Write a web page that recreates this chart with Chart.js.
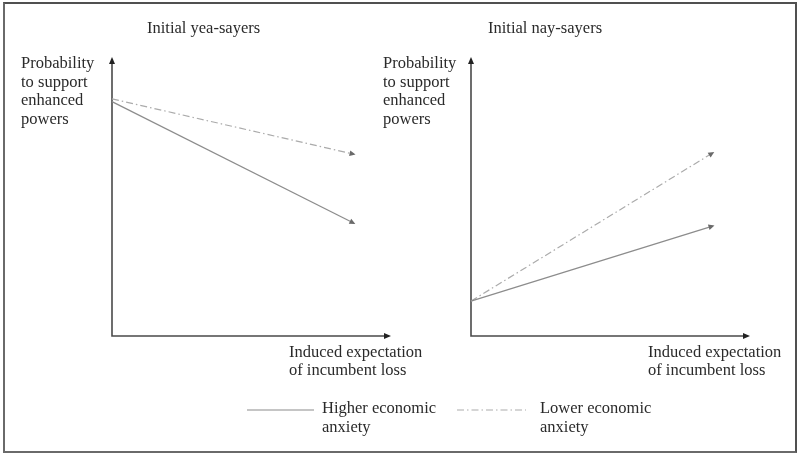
<!DOCTYPE html>
<html>
<head>
<meta charset="utf-8">
<script src="https://cdn.jsdelivr.net/npm/chart.js@4/dist/chart.umd.min.js"></script>
<style>
  html, body { margin: 0; padding: 0; background: #fff; }
  body { width: 797px; height: 454px; position: relative; overflow: hidden;
         font-family: "Liberation Serif", "DejaVu Serif", serif; color: #2a2a2a; }
  .frame { position: absolute; left: 3px; top: 2px; width: 790px; height: 447px;
           border: 2px solid #505050; border-left-color: #6a6a6a; border-bottom-color: #6a6a6a; }
  .panel { position: absolute; top: 0; height: 454px; }
  .txt { position: absolute; font-size: 16.5px; line-height: 18.5px; white-space: nowrap; }
  svg.leg { position: absolute; }
</style>
</head>
<body>
<div class="frame"></div>
<div class="panel" style="left:0;width:400px"><canvas id="c1" width="400" height="454"></canvas></div>
<div class="panel" style="left:400px;width:397px"><canvas id="c2" width="397" height="454"></canvas></div>

<div class="txt" id="t1" style="left:147px;top:19px"></div>
<div class="txt" id="t2" style="left:488px;top:19px"></div>
<div class="txt" id="yl1" style="left:21px;top:54px"></div>
<div class="txt" id="yl2" style="left:383px;top:54px"></div>
<div class="txt" id="xl1" style="left:289px;top:342.5px"></div>
<div class="txt" id="xl2" style="left:648px;top:342.5px"></div>

<svg class="leg" style="left:240px;top:400px" width="300" height="20">
  <line id="legHigher" x1="7" y1="10" x2="74" y2="10"/>
  <line id="legLower" x1="217" y1="10" x2="286" y2="10"/>
</svg>
<div class="txt" id="lg1" style="left:322px;top:399px"></div>
<div class="txt" id="lg2" style="left:540px;top:399px"></div>

<script>
// ---- data ----
const panelTitles = ['Initial yea-sayers', 'Initial nay-sayers'];
const yAxisLabel = ['Probability', 'to support', 'enhanced', 'powers'];
const xAxisLabel = ['Induced expectation', 'of incumbent loss'];
const seriesLabels = [['Higher economic', 'anxiety'], ['Lower economic', 'anxiety']];
const xLevels = [0, 1];               // low -> high induced expectation of loss
const yeaHigher = [0.84, 0.405];      // initial yea-sayers, higher economic anxiety
const yeaLower  = [0.85, 0.652];      // initial yea-sayers, lower economic anxiety
const nayHigher = [0.125, 0.394];     // initial nay-sayers, higher economic anxiety
const nayLower  = [0.125, 0.656];     // initial nay-sayers, lower economic anxiety

// ---- styles ----
const higherStyle = { color: '#8c8c8c', width: 1.2, dash: [] };
const lowerStyle  = { color: '#ababab', width: 1.2, dash: [7, 3, 1.5, 3] };
const axisColor = '#4a4a4a';

// text
document.getElementById('t1').textContent = panelTitles[0];
document.getElementById('t2').textContent = panelTitles[1];
for (const id of ['yl1', 'yl2']) document.getElementById(id).innerHTML = yAxisLabel.join('<br>');
for (const id of ['xl1', 'xl2']) document.getElementById(id).innerHTML = xAxisLabel.join('<br>');
document.getElementById('lg1').innerHTML = seriesLabels[0].join('<br>');
document.getElementById('lg2').innerHTML = seriesLabels[1].join('<br>');

function styleLine(el, s) {
  el.setAttribute('stroke', s.color);
  el.setAttribute('stroke-width', s.width);
  if (s.dash.length) el.setAttribute('stroke-dasharray', s.dash.join(' '));
}
styleLine(document.getElementById('legHigher'), higherStyle);
styleLine(document.getElementById('legLower'), lowerStyle);

function pts(vals) { return xLevels.map((x, i) => ({ x: x, y: vals[i] })); }

function arrowHead(ctx, x, y, ang, len, half, color) {
  ctx.save();
  ctx.translate(x, y);
  ctx.rotate(ang);
  ctx.beginPath();
  ctx.moveTo(0, 0);
  ctx.lineTo(-len, -half);
  ctx.lineTo(-len, half);
  ctx.closePath();
  ctx.fillStyle = color;
  ctx.fill();
  ctx.restore();
}

const arrowPlugin = {
  id: 'arrows',
  beforeDatasetsDraw(chart) {
    const ctx = chart.ctx, xs = chart.scales.x, ys = chart.scales.y;
    const x0 = xs.getPixelForValue(xs.min), y0 = ys.getPixelForValue(ys.min);
    const x1 = xs.getPixelForValue(xs.max), y1 = ys.getPixelForValue(ys.max);
    ctx.save();
    ctx.strokeStyle = axisColor;
    ctx.lineWidth = 1.6;
    ctx.beginPath();
    ctx.moveTo(x0, y1 + 4);
    ctx.lineTo(x0, y0);
    ctx.lineTo(x1 - 4, y0);
    ctx.stroke();
    ctx.restore();
    arrowHead(ctx, x0, y1, -Math.PI / 2, 7, 3, '#222');
    arrowHead(ctx, x1, y0, 0, 7, 3, '#222');
  },
  afterDatasetsDraw(chart) {
    const ctx = chart.ctx;
    chart.data.datasets.forEach((ds, i) => {
      const pts = chart.getDatasetMeta(i).data;
      const a = pts[pts.length - 2], b = pts[pts.length - 1];
      const ang = Math.atan2(b.y - a.y, b.x - a.x);
      arrowHead(ctx, b.x + 2 * Math.cos(ang), b.y + 2 * Math.sin(ang), ang, 6, 2.8, '#6a6a6a');
    });
  }
};

function makeChart(id, higher, lower, pad) {
  return new Chart(document.getElementById(id), {
    type: 'line',
    data: {
      datasets: [
        { label: seriesLabels[0].join(' '), data: pts(higher), borderColor: higherStyle.color,
          borderWidth: higherStyle.width, borderDash: higherStyle.dash, pointRadius: 0, tension: 0 },
        { label: seriesLabels[1].join(' '), data: pts(lower), borderColor: lowerStyle.color,
          borderWidth: lowerStyle.width, borderDash: lowerStyle.dash, pointRadius: 0, tension: 0 }
      ]
    },
    options: {
      responsive: false,
      animation: false,
      devicePixelRatio: 1,
      layout: { padding: pad },
      clip: false,
      plugins: { legend: { display: false }, title: { display: false }, tooltip: { enabled: false } },
      scales: {
        x: { type: 'linear', min: 0, max: 1.155, display: false },
        y: { type: 'linear', min: 0, max: 1, display: false }
      }
    },
    plugins: [arrowPlugin]
  });
}

makeChart('c1', yeaHigher, yeaLower, { left: 112, right: 9, top: 57, bottom: 118 });
makeChart('c2', nayHigher, nayLower, { left: 71, right: 47, top: 57, bottom: 118 });
</script>
</body>
</html>
